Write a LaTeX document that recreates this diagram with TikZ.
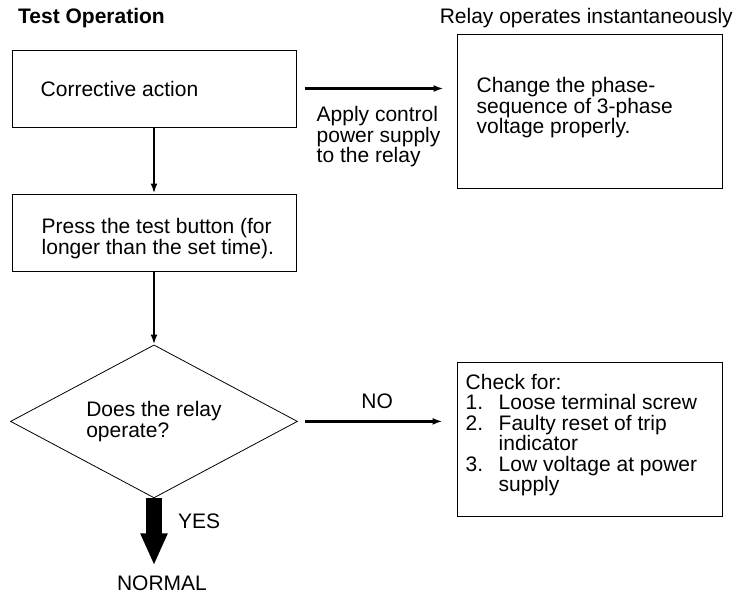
\documentclass[tikz,border=0pt]{standalone}
\usepackage{fontspec}
\setmainfont{Liberation Sans}
\usetikzlibrary{positioning,shapes.geometric,arrows.meta}
\newcommand{\chkitem}[1]{\makebox[33pt][l]{#1}}
\begin{document}
\begin{tikzpicture}[x=1pt,y=-1pt,font={\fontsize{21}{20.5}\selectfont},inner sep=0pt,
    >={Latex[length=10pt,width=7pt]}]
    \tikzstyle{block} = [rectangle,minimum width=284pt,minimum height=77pt,draw=black,line width=1pt]
    \tikzstyle{result} = [rectangle,minimum width=265pt,minimum height=154pt,draw=black,line width=1pt]
    \tikzstyle{decision} = [diamond,aspect=1.876,minimum width=287pt,minimum height=153pt,draw=black,line width=0.8pt,align=left]
    \tikzstyle{flow} = [->,line width=2.2pt]
    \useasboundingbox (0,0) rectangle (748,595);
    \node (title)[anchor=west,font={\fontsize{21}{20.5}\bfseries\selectfont}] at (18,18) {Test Operation};
    \node (note)[anchor=east] at (733,18) {Relay operates instantaneously};
    % left column
    \node (corr)[block] at (154,88.5) {};
    \node (corrtext)[right=29pt of corr.west] {Corrective action};
    \node (press)[block,below=66pt of corr] {};
    \node (presstext)[right=30pt of press.west,yshift=-6pt,align=left] {Press the test button (for\\longer than the set time).};
    \node (test)[decision,below=73pt of press] {Does the relay\\operate?};
    \node (normal) at (162,583) {NORMAL};
    % right column
    \node (phase)[result] at (589.5,111) {};
    \node (phasetext)[right=20pt of phase.west,yshift=3pt,align=left] {Change the phase-\\sequence of 3-phase\\voltage properly.};
    \node (check)[result] at (589.5,439) {};
    \node (checktext)[right=9pt of check.west,yshift=4pt,align=left] {Check for:\\\chkitem{1.}Loose terminal screw\\\chkitem{2.}Faulty reset of trip\\\chkitem{}indicator\\\chkitem{3.}Low voltage at power\\\chkitem{}supply};
    \node (apply)[anchor=west,align=left] at ([shift={(20pt,-48.5pt)}]corr.east) {Apply control\\power supply\\to the relay};
    % connectors
    \draw [flow,shorten <=8pt,shorten >=13pt] (corr.east) -- (corr.east -| phase.west);
    \draw [flow] (corr.south) -- (press.north);
    \draw [flow] (press.south) -- (test.north);
    \draw [flow,shorten <=7pt,shorten >=14pt] (test.east) -- node [above=12pt]{NO} (test.east -| check.west);
    \draw [line width=16pt,-{Triangle[length=32pt,width=25pt]},shorten >=10pt] (test.south) -- node [pos=0.3,anchor=west,xshift=16pt]{YES} (test.south |- normal.north);
\end{tikzpicture}
\end{document}
